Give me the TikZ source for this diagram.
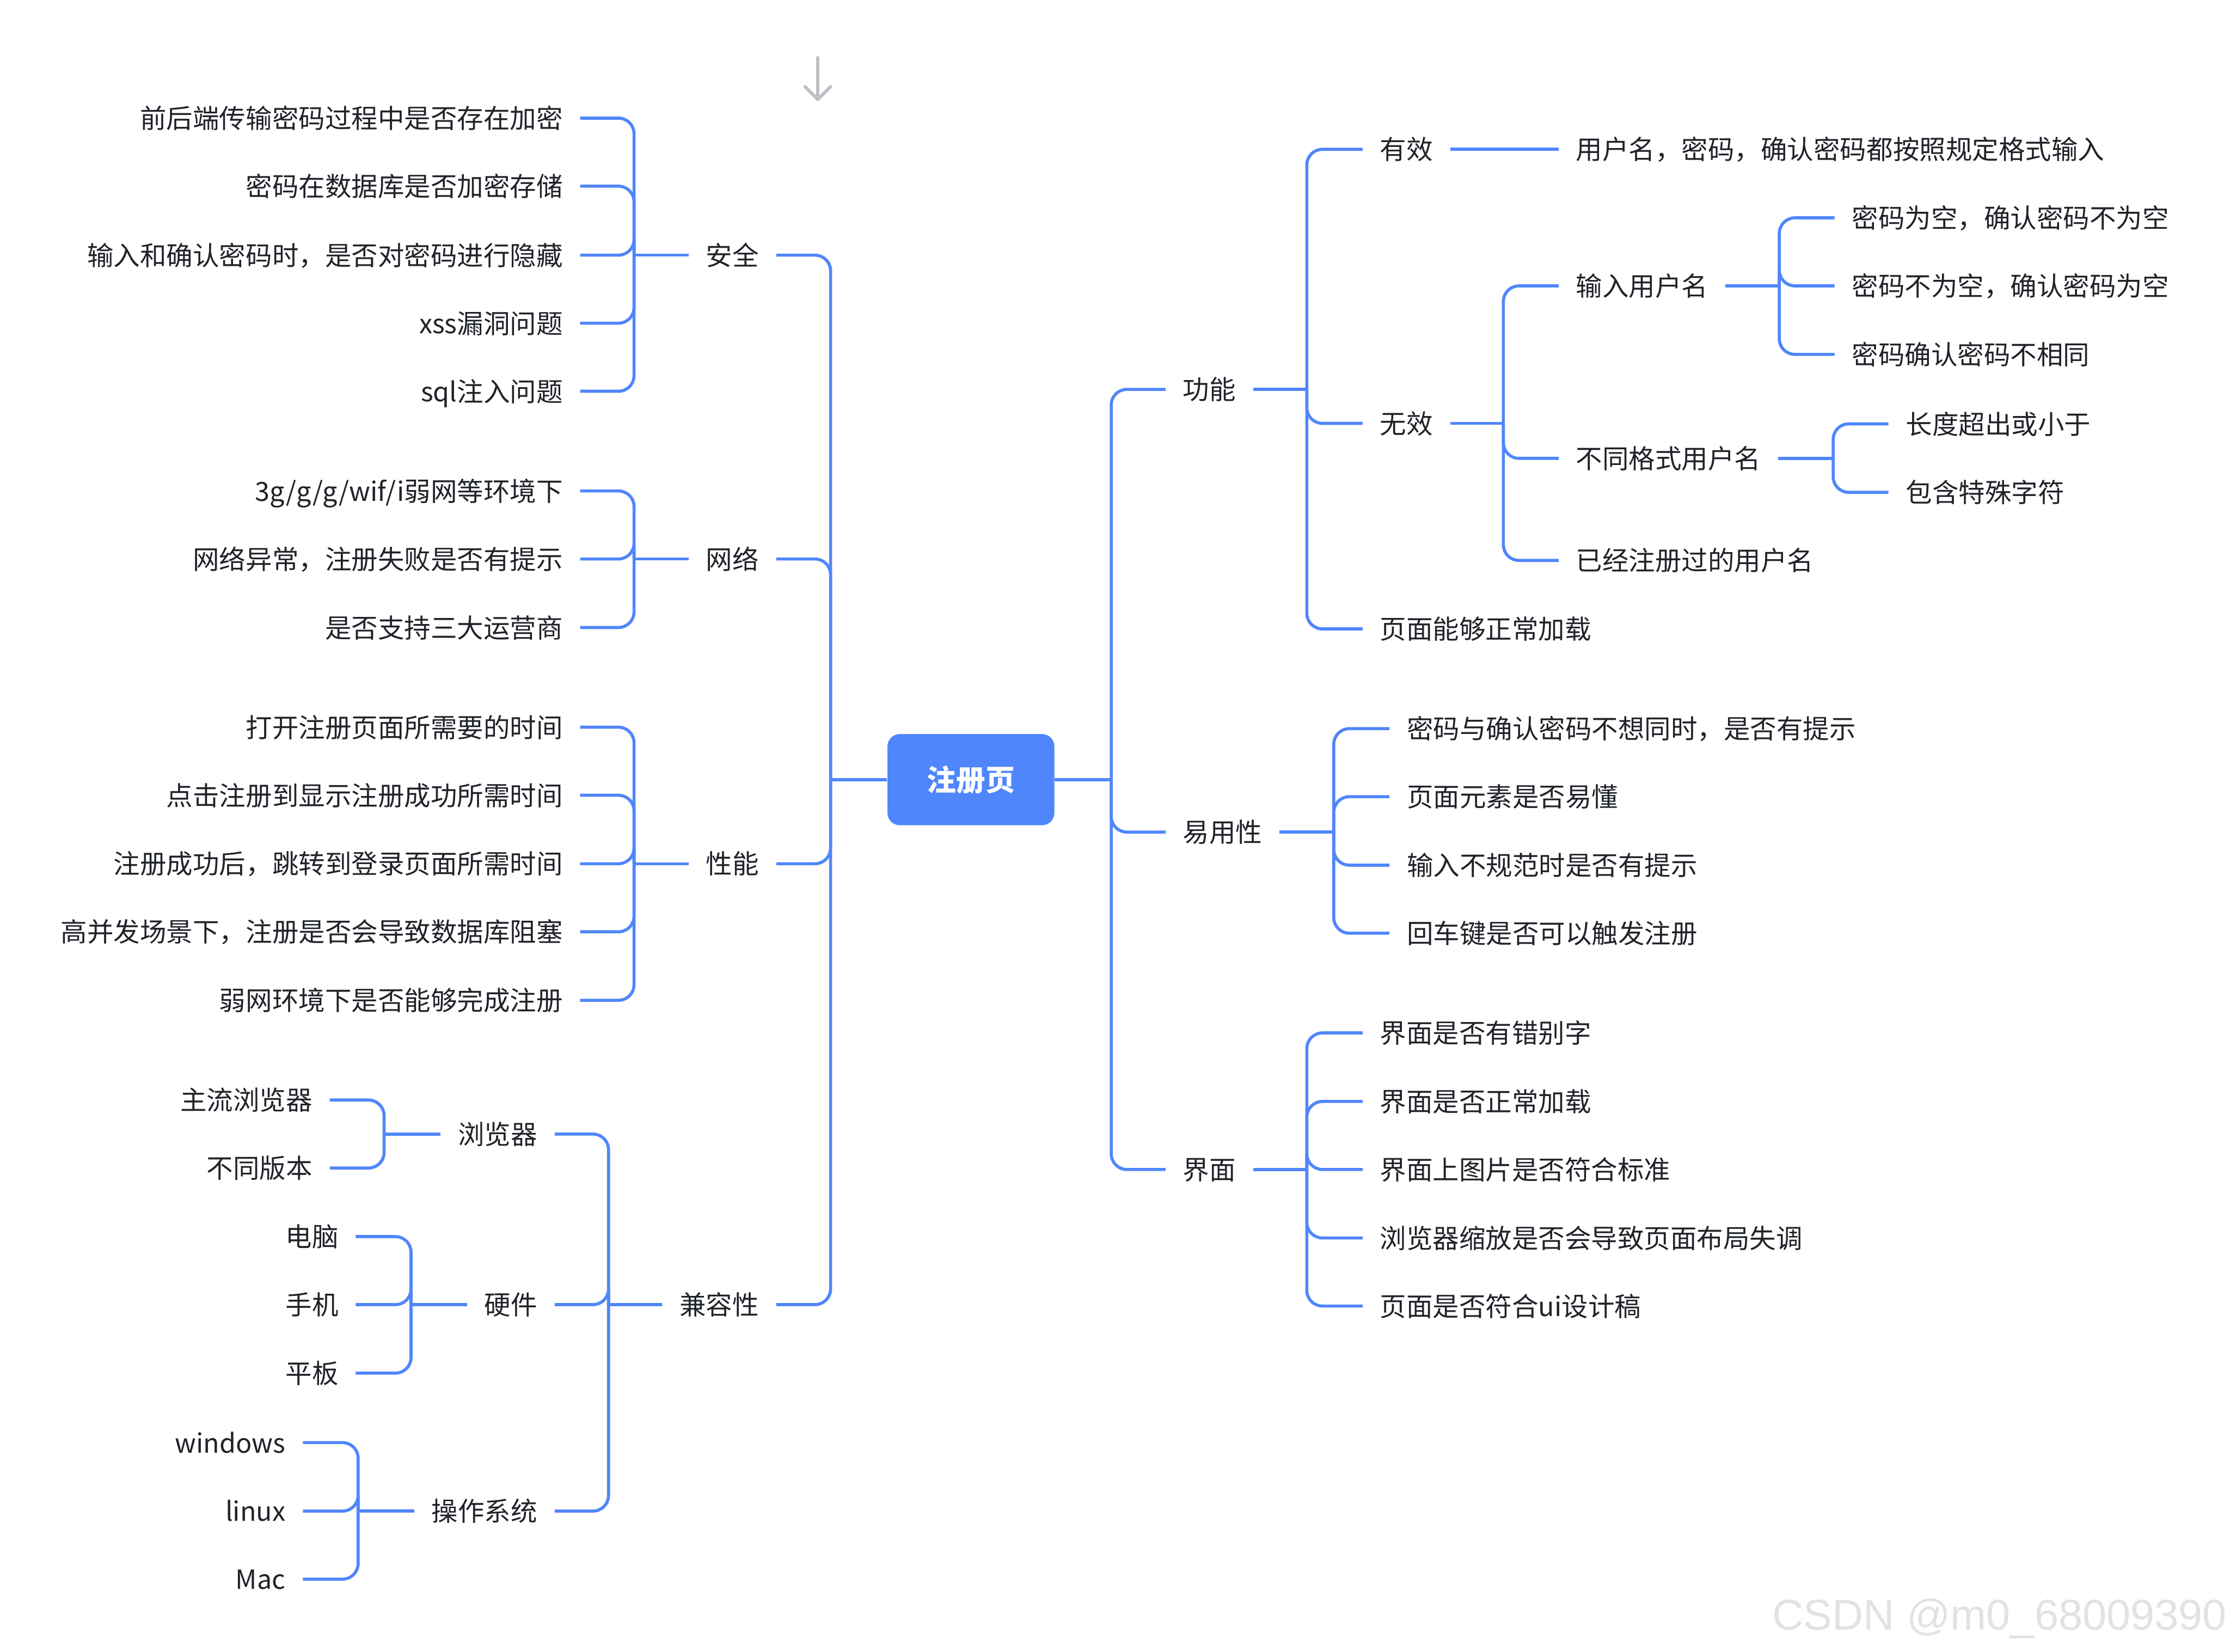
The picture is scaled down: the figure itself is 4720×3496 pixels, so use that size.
\documentclass[tikz,border=0pt]{standalone}
\usepackage{fontspec}
\setmainfont{Noto Sans CJK SC}
\newfontfamily\wmfont{Liberation Sans}
\usepackage{tikz}
\usetikzlibrary{arrows.meta}

\definecolor{lineblue}{RGB}{80,134,252}
\definecolor{inkgray}{RGB}{31,35,41}
\definecolor{arrowgray}{RGB}{189,192,197}
\definecolor{markgray}{RGB}{226,226,226}

\tikzset{
  topic/.style={font=\fontsize{15.9}{19}\selectfont, text=inkgray, inner xsep=0.36cm, inner ysep=0pt,
    text height=1.28em, text depth=0.06em},
  ltopic/.style={topic, anchor=east},
  rtopic/.style={topic, anchor=west},
  branch/.style={draw=lineblue, line width=1.85pt, rounded corners=0.33cm},
}

\begin{document}
\begin{tikzpicture}[x=0.01cm, y=-0.01cm]
  \useasboundingbox (0,0) rectangle (4720,3496);

  \node[fill=lineblue, rounded corners=0.26cm, minimum width=3.53cm, minimum height=1.93cm,
    text=white, font=\fontsize{17.6}{20}\selectfont\bfseries] (root) at (2055,1650) {注册页};
  \coordinate (LT) at (1758,1650);
  \coordinate (RT) at (2352,1650);

  % left half
  \node[ltopic] (aq) at (1643,540) {安全};
  \node[ltopic] (wl) at (1643,1183) {网络};
  \node[ltopic] (xn) at (1643,1828) {性能};
  \node[ltopic] (jr) at (1643,2761) {兼容性};

  \node[ltopic] (aq1) at (1228,250) {前后端传输密码过程中是否存在加密};
  \node[ltopic] (aq2) at (1228,394) {密码在数据库是否加密存储};
  \node[ltopic] (aq3) at (1228,540) {输入和确认密码时，是否对密码进行隐藏};
  \node[ltopic] (aq4) at (1228,684) {xss漏洞问题};
  \node[ltopic] (aq5) at (1228,828) {sql注入问题};

  \node[ltopic] (wl1) at (1228,1039) {3g/g/g/wif/i弱网等环境下};
  \node[ltopic] (wl2) at (1228,1183) {网络异常，注册失败是否有提示};
  \node[ltopic] (wl3) at (1228,1328) {是否支持三大运营商};

  \node[ltopic] (xn1) at (1228,1539) {打开注册页面所需要的时间};
  \node[ltopic] (xn2) at (1228,1683) {点击注册到显示注册成功所需时间};
  \node[ltopic] (xn3) at (1228,1828) {注册成功后，跳转到登录页面所需时间};
  \node[ltopic] (xn4) at (1228,1972) {高并发场景下，注册是否会导致数据库阻塞};
  \node[ltopic] (xn5) at (1228,2117) {弱网环境下是否能够完成注册};

  \node[ltopic] (llq) at (1174,2400) {浏览器};
  \node[ltopic] (yj) at (1174,2761) {硬件};
  \node[ltopic] (czxt) at (1174,3198) {操作系统};
  \node[ltopic] (llq1) at (698,2328) {主流浏览器};
  \node[ltopic] (llq2) at (698,2472) {不同版本};
  \node[ltopic] (yj1) at (753,2617) {电脑};
  \node[ltopic] (yj2) at (753,2761) {手机};
  \node[ltopic] (yj3) at (753,2906) {平板};
  \node[ltopic] (czxt1) at (641,3053) {windows};
  \node[ltopic] (czxt2) at (641,3198) {linux};
  \node[ltopic] (czxt3) at (641,3342) {Mac};

  % right half
  \node[rtopic] (gn) at (2467,824) {功能};
  \node[rtopic] (yy) at (2467,1761) {易用性};
  \node[rtopic] (jm) at (2467,2475) {界面};

  \node[rtopic] (yx) at (2884,316) {有效};
  \node[rtopic] (yx1) at (3299,316) {用户名，密码，确认密码都按照规定格式输入};
  \node[rtopic] (wx) at (2884,896) {无效};
  \node[rtopic] (ym) at (2884,1331) {页面能够正常加载};
  \node[rtopic] (srm) at (3299,605) {输入用户名};
  \node[rtopic] (btgs) at (3299,970) {不同格式用户名};
  \node[rtopic] (yjzc) at (3299,1186) {已经注册过的用户名};
  \node[rtopic] (srm1) at (3883,461) {密码为空，确认密码不为空};
  \node[rtopic] (srm2) at (3883,605) {密码不为空，确认密码为空};
  \node[rtopic] (srm3) at (3883,750) {密码确认密码不相同};
  \node[rtopic] (btgs1) at (3997,897) {长度超出或小于};
  \node[rtopic] (btgs2) at (3997,1042) {包含特殊字符};

  \node[rtopic] (yy1) at (2941,1542) {密码与确认密码不想同时，是否有提示};
  \node[rtopic] (yy2) at (2941,1686) {页面元素是否易懂};
  \node[rtopic] (yy3) at (2941,1831) {输入不规范时是否有提示};
  \node[rtopic] (yy4) at (2941,1975) {回车键是否可以触发注册};

  \node[rtopic] (jm1) at (2884,2186) {界面是否有错别字};
  \node[rtopic] (jm2) at (2884,2331) {界面是否正常加载};
  \node[rtopic] (jm3) at (2884,2475) {界面上图片是否符合标准};
  \node[rtopic] (jm4) at (2884,2620) {浏览器缩放是否会导致页面布局失调};
  \node[rtopic] (jm5) at (2884,2764) {页面是否符合ui设计稿};

  % trunks
  \coordinate (aqT) at (1342,540);
  \coordinate (wlT) at (1342,1183);
  \coordinate (xnT) at (1342,1828);
  \coordinate (jrT) at (1288,2761);
  \coordinate (llqT) at (813,2400);
  \coordinate (yjT) at (870,2761);
  \coordinate (czxtT) at (758,3198);
  \coordinate (gnT) at (2766,824);
  \coordinate (wxT) at (3182,896);
  \coordinate (srmT) at (3766,605);
  \coordinate (btgsT) at (3880,970);
  \coordinate (yyT) at (2823,1761);
  \coordinate (jmT) at (2766,2475);

  \draw[branch] (root.west) -- (LT);
  \draw[branch] (root.east) -- (RT);
  \foreach \n in {aq,wl,xn,jr} \draw[branch] (LT) |- (\n.east);
  \foreach \n in {gn,yy,jm} \draw[branch] (RT) |- (\n.west);

  \foreach \p/\k in {aq/5,wl/3,xn/5,llq/2,yj/3,czxt/3} {
    \draw[branch] (\p.west) -- (\p T);
    \foreach \i in {1,...,\k} \draw[branch] (\p T) |- (\p\i.east);
  }
  \draw[branch] (jr.west) -- (jrT);
  \foreach \n in {llq,yj,czxt} \draw[branch] (jrT) |- (\n.east);

  \foreach \p/\k in {srm/3,btgs/2,yy/4,jm/5} {
    \draw[branch] (\p.east) -- (\p T);
    \foreach \i in {1,...,\k} \draw[branch] (\p T) |- (\p\i.west);
  }
  \draw[branch] (gn.east) -- (gnT);
  \foreach \n in {yx,wx,ym} \draw[branch] (gnT) |- (\n.west);
  \draw[branch] (wx.east) -- (wxT);
  \foreach \n in {srm,btgs,yjzc} \draw[branch] (wxT) |- (\n.west);
  \draw[branch] (yx.east) -- (yx1.west);

  % loose arrow and watermark
  \coordinate (arrTop) at (1731,122);
  \coordinate (arrEnd) at (1731,214);
  \draw[arrowgray, line width=2pt, line cap=round,
    -{Straight Barb[length=0.27cm, width=0.54cm, round]}] (arrTop) -- (arrEnd);
  \node[anchor=base east, inner sep=0pt, text=markgray, font=\wmfont\fontsize{26}{30}\selectfont]
    (wm) at (4714,3450) {CSDN @m0\_68009390};
\end{tikzpicture}
\end{document}
